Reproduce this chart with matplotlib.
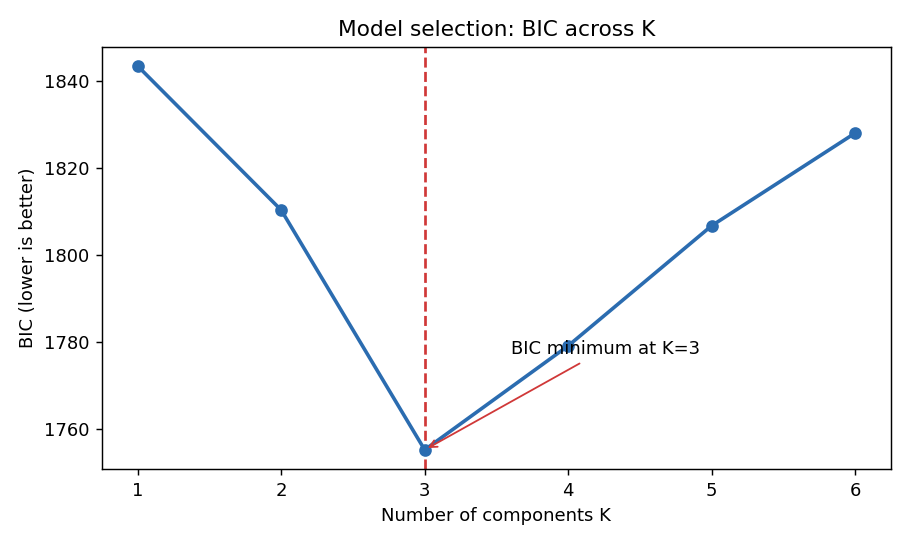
import matplotlib
matplotlib.use("Agg")
import matplotlib.pyplot as plt

ks = [1, 2, 3, 4, 5, 6]
bic = [1843.4, 1810.3, 1755.2, 1779.1, 1806.7, 1828.0]
best_k = 3
best_bic = 1755.2

fig, ax = plt.subplots(figsize=(7.0, 4.2), dpi=130)
ax.axvline(best_k, color="#d03838", linestyle="--", linewidth=1.5, zorder=1)
ax.plot(ks, bic, marker="o", color="#2b6cb0", linewidth=2, markersize=6, zorder=2)
ax.annotate(f"BIC minimum at K={best_k}", xy=(best_k, best_bic),
            xytext=(best_k + 0.6, best_bic + 22),
            arrowprops=dict(arrowstyle="->", color="#d03838", lw=1))
ax.set_title("Model selection: BIC across K", fontsize=12)
ax.set_xlabel("Number of components K")
ax.set_ylabel("BIC (lower is better)")
ax.set_xticks(ks)
fig.subplots_adjust(left=0.112, right=0.979, top=0.914, bottom=0.141)
fig.savefig("out.png", dpi=130)
